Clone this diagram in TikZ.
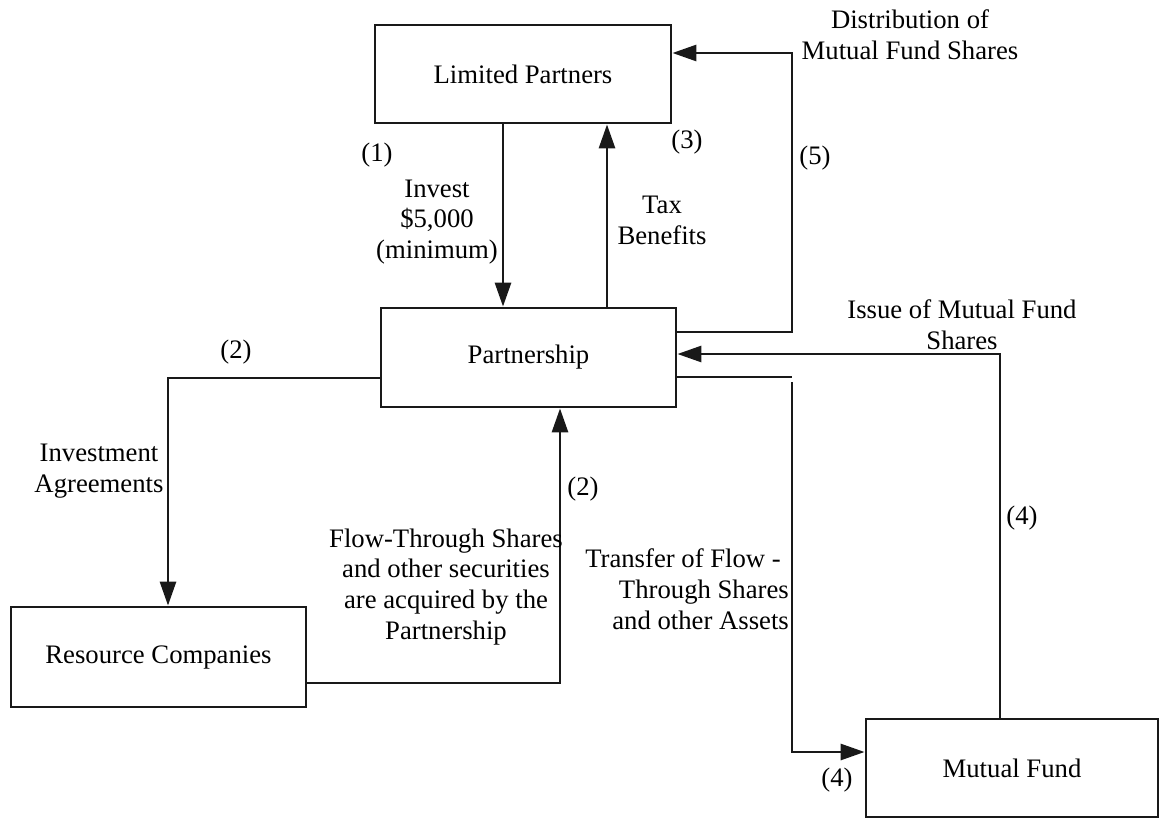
\documentclass[tikz,border=0pt]{standalone}
\usepackage{fontspec}
\setmainfont{Liberation Serif}
\usetikzlibrary{arrows.meta}
\newcommand\fs{\fontsize{26.8}{31}\selectfont}
\begin{document}
\begin{tikzpicture}[x=1bp,y=-1bp,
  box/.style={draw=black!90, line width=2.8bp, inner sep=0pt, font=\fs},
  lbl/.style={inner sep=0pt, font=\fs, align=center},
  conn/.style={draw=black!90, line width=2.8bp},
  arr/.style={conn, -{Triangle[length=24bp,width=16bp]}}]
\useasboundingbox (0,0) rectangle (1161,819);
% boxes
\node[box, minimum width=296bp, minimum height=98bp] (lp) at (523,74) {Limited Partners};
\node[box, minimum width=295bp, minimum height=99bp] (pt) at (528.5,357.5) {Partnership};
\node[box, minimum width=295bp, minimum height=100bp] (rc) at (158.5,657) {Resource Companies};
\node[box, minimum width=292bp, minimum height=98bp] (mf) at (1012,768) {Mutual Fund};
% helper coordinates
\coordinate (xInv) at (503,0);
\coordinate (xTax) at (607,0);
\coordinate (xR) at (792,0);
\coordinate (xIss) at (1000,0);
\coordinate (xAg) at (168,0);
\coordinate (xFl) at (560,0);
\coordinate (y5) at (0,332);
\coordinate (yD) at (0,53);
\coordinate (yIss) at (0,354);
\coordinate (yTr) at (0,377);
\coordinate (yTr2) at (0,382);
\coordinate (yMf) at (0,752);
\coordinate (yAg) at (0,378);
\coordinate (yFl) at (0,683);
% connectors
\draw[arr] (lp.south -| xInv) -- (pt.north -| xInv);
\draw[arr] (pt.north -| xTax) -- (lp.south -| xTax);
\draw[arr] (pt.east |- y5) -- (xR |- y5) -- (xR |- yD) -- (lp.east |- yD);
\draw[arr] (mf.north -| xIss) -- (xIss |- yIss) -- (pt.east |- yIss);
\draw[arr] (pt.east |- yTr) -- (xR |- yTr) (xR |- yTr2) -- (xR |- yMf) -- (mf.west |- yMf);
\draw[arr] (pt.west |- yAg) -- (xAg |- yAg) -- (rc.north -| xAg);
\draw[arr] (rc.east |- yFl) -- (xFl |- yFl) -- (pt.south -| xFl);
% labels
\node[lbl] (l1) at (377,155) {(1)};
\node[lbl] (l3) at (687,142) {(3)};
\node[lbl] (l5) at (815,158) {(5)};
\node[lbl] (l2a) at (236,352) {(2)};
\node[lbl] (l2b) at (583,489) {(2)};
\node[lbl] (l4a) at (1022,518) {(4)};
\node[lbl] (l4b) at (837,780) {(4)};
\node[lbl] (tinv) at (437,222) {Invest\\\$5,000\\(minimum)};
\node[lbl] (ttax) at (662,220) {Tax\\Benefits};
\node[lbl] (tdist) at (910,35) {Distribution of\\Mutual Fund Shares};
\node[lbl] (tiss) at (962,325) {Issue of Mutual Fund\\Shares};
\node[lbl] (tagr) at (99,471) {Investment\\Agreements};
\node[lbl] (tflow) at (446,587) {Flow-Through Shares\\and other securities\\are acquired by the\\Partnership};
\node[lbl, align=right, anchor=east] (ttr) at (789,589) {Transfer of Flow -\hspace*{8bp}\\Through Shares\\and other Assets};
\end{tikzpicture}
\end{document}
